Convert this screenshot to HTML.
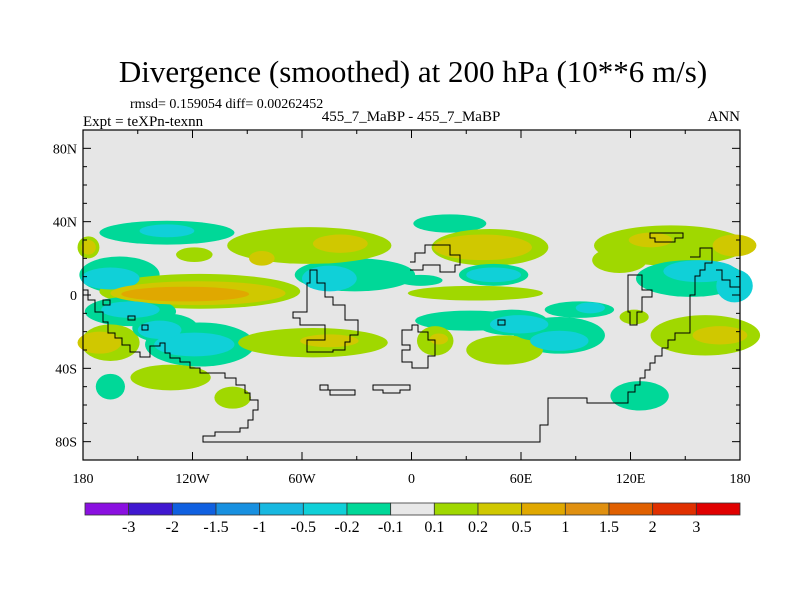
<!DOCTYPE html>
<html><head><meta charset="utf-8"><style>
body{margin:0;background:#fff;}
svg text{font-family:"Liberation Serif",serif;fill:#000;}
</style></head><body>
<svg id="chart" width="800" height="600" viewBox="0 0 800 600" xmlns="http://www.w3.org/2000/svg">
<text x="413" y="82" font-size="31" text-anchor="middle">Divergence (smoothed) at 200 hPa (10**6 m/s)</text>
<text x="130" y="108" font-size="14">rmsd= 0.159054 diff= 0.00262452</text>
<text x="83" y="126" font-size="15">Expt = teXPn-texnn</text>
<text x="411" y="121" font-size="15" text-anchor="middle">455_7_MaBP - 455_7_MaBP</text>
<text x="740" y="121" font-size="15" text-anchor="end">ANN</text>
<rect x="83" y="130" width="657" height="330" fill="#e6e6e6"/>
<g id="contours"></g>
<path fill="none" stroke="#000" stroke-width="1"
d="M83 290 L88 290 L88 300 L95 300 L95 312 L103 312 L103 322 L108 322 L108 333 L115 333 L115 338 L122 338 L122 345 L130 345 L130 352 L140 352 L140 357 L150 357 L150 346 L160 346 L160 343 L165 343 L165 353 L170 353 L170 358 L180 358 L180 362 L190 362 L190 368 L200 368 L200 373 L225 373 L225 378 L236 378 L236 385 L245 385 L245 393 L250 393 L250 400 L258 400 L258 410 L253 410 L253 420 L248 420 L248 428 L240 428 L240 432 L215 432 L215 436 L203 436 L203 442 L540 442 L540 425 L548 425 L548 398 L587 398 L587 403 L628 403 L628 392 L635 392 L635 385 L640 385 L640 378 L645 378 L645 370 L650 370 L650 363 L655 363 L655 356 L662 356 L662 348 L668 348 L668 340 L675 340 L675 333 L690 333 L690 295 L695 295 L695 276 L700 276 L700 270 L705 270 L705 263 L712 263 L712 248 L700 248 L700 257 L690 257
M310 270 L317 270 L317 283 L325 283 L325 297 L333 297 L333 305 L345 305 L345 320 L358 320 L358 335 L350 335 L350 342 L345 342 L345 350 L333 350 L333 352 L307 352 L307 340 L325 340 L325 325 L300 325 L300 318 L293 318 L293 312 L307 312 L307 283 L310 283 Z
M410 262 L415 262 L415 253 L425 253 L425 245 L450 245 L450 255 L460 255 L460 265 L455 265 L455 272 L440 272 L440 265 L423 265 L423 270 L410 270
M402 330 L412 330 L412 325 L418 325 L418 332 L428 332 L428 340 L435 340 L435 356 L428 356 L428 368 L412 368 L412 362 L402 362 L402 350 L410 350 L410 345 L402 345 Z
M320 385 L328 385 L328 390 L355 390 L355 395 L330 395 L330 390 L320 390 Z
M373 385 L410 385 L410 390 L400 390 L400 393 L383 393 L383 390 L373 390 Z
M628 275 L642 275 L642 290 L652 290 L652 297 L642 297 L642 312 L637 312 L637 325 L630 325 L630 312 L628 312 Z
M650 233 L683 233 L683 238 L675 238 L675 242 L655 242 L655 238 L650 238 Z
M103 300 L110 300 L110 305 L103 305 Z M128 316 L135 316 L135 320 L128 320 Z M142 325 L148 325 L148 330 L142 330 Z M498 320 L505 320 L505 325 L498 325 Z
M716 270 L722 270 L722 280 L730 280 L730 287 L740 287"/>
<rect x="83" y="130" width="657" height="330" fill="none" stroke="#000" stroke-width="1.2"/>
<g id="axes"></g>
<g id="colorbar"></g>
</svg>
<script>
const NS="http://www.w3.org/2000/svg";
// contour blobs: lon, lat centres, half-widths (deg), value
const blobLon=[-134,-134,-177,-177,-119,-160,-165,-116,-117,-124,-154,-116,-154,-119,-165,-171,-132,-165,-98,-31,-45,-56,-39,-82,21,43,39,45,45,5,35,32,81,92,59,81,98,51,122,142,114,177,131,153,158,177,161,169,125,-135,-138,55,70,-54,-45,13,15];
const blobLat=[34,35,26,26,22,11,9,2,1,0.5,-9,-27,-8,-27,-26,-26,-45,-50,-56,11,9,27,28,20,39,26,26,11,11,8,1,-14,-22,-8,-16,-25,-7,-30,-12,27,19,27,30,9,13,5,-22,-22,-55,-18,-19,-15,-20,-26,-25,-25,-24];
const blobRx=[37,15,6,4,10,22,16,55,48,35,25,30,16,22,16,12,22,8,10,33,15,45,15,7,20,32,27,19,15,12,37,30,25,19,16,16,8,21,8,42,15,12,12,30,20,10,30,15,16,18,12,20,14,41,16,10,5];
const blobRy=[6.5,3.5,6,4,4,10,6,9.5,6.5,4,8,12,4.5,6.5,10,6,7,7,6,9,7,10,5,4,5,10,7,6,4,3,4,5.5,10,4.5,5,5.5,3,8,4,11,7,6,4,10,6,9,11,5,8,8,5,7,5,8,3.5,8,3];
const blobVal=[-0.15,-0.3,0.15,0.3,0.15,-0.15,-0.3,0.15,0.3,0.7,-0.15,-0.15,-0.3,-0.3,0.15,0.3,0.15,-0.15,0.15,-0.15,-0.3,0.15,0.3,0.3,-0.15,0.15,0.3,-0.15,-0.3,-0.15,0.15,-0.15,-0.15,-0.15,-0.3,-0.3,-0.3,0.15,0.15,0.15,0.15,0.3,0.3,-0.15,-0.3,-0.3,0.15,0.3,-0.15,-0.15,-0.3,-0.15,-0.15,0.15,0.3,0.15,0.3];
const levels=[-3,-2,-1.5,-1,-0.5,-0.2,-0.1,0.1,0.2,0.5,1,1.5,2,3];
const levelLabels=["-3","-2","-1.5","-1","-0.5","-0.2","-0.1","0.1","0.2","0.5","1","1.5","2","3"];
const colors=["#8a10e0","#4018d0","#1060e0","#1890e0","#18b8e0","#10d0d8","#00d898","#e8e8e8","#a0d800","#d0c800","#e0a800","#e09010","#e06000","#e03000","#e00000"];
const latTicks=[80,40,0,-40,-80];
const latLabels=["80N","40N","0","40S","80S"];
const lonTicks=[-180,-120,-60,0,60,120,180];
const lonLabels=["180","120W","60W","0","60E","120E","180"];
const X0=83,X1=740,Y0=130,Y1=460;
const xs=lon=>X0+(lon+180)/360*(X1-X0);
const ys=lat=>Y0+(90-lat)/180*(Y1-Y0);
const kx=(X1-X0)/360,ky=(Y1-Y0)/180;
function colorOf(v){let i=0;while(i<levels.length&&v>levels[i])i++;return colors[i];}
const cg=document.getElementById('contours');
const order=blobLon.map((_,i)=>i).sort((a,b)=>Math.abs(blobVal[a])-Math.abs(blobVal[b])||a-b);
order.forEach(i=>{
  const e=document.createElementNS(NS,'ellipse');
  
  
  e.setAttribute('cx',xs(blobLon[i]));e.setAttribute('cy',ys(blobLat[i]));
  e.setAttribute('rx',blobRx[i]*kx);e.setAttribute('ry',blobRy[i]*ky);
  e.setAttribute('fill',colorOf(blobVal[i]));
  cg.appendChild(e);
});
const ag=document.getElementById('axes');
function line(x1,y1,x2,y2){const l=document.createElementNS(NS,'line');


l.setAttribute('x1',x1);l.setAttribute('y1',y1);l.setAttribute('x2',x2);l.setAttribute('y2',y2);l.setAttribute('stroke','#000');ag.appendChild(l);}
function text(x,y,s,anchor,name,size){const t=document.createElementNS(NS,'text');


t.setAttribute('x',x);t.setAttribute('y',y);t.setAttribute('text-anchor',anchor);t.setAttribute('font-size',size);t.textContent=s;ag.appendChild(t);}
for(let lat=-80;lat<=80;lat+=10){const y=ys(lat);const major=lat%40===0;const L=major?8:4;line(X0,y,X0+L,y);line(X1,y,X1-L,y);}
for(let lon=-180;lon<=180;lon+=30){const x=xs(lon);const major=lon%60===0;const L=major?8:4;line(x,Y1,x,Y1-L);line(x,Y0,x,Y0+L);}
latTicks.forEach((v,i)=>text(X0-6,ys(v)+5,latLabels[i],'end','lat-tick-label',14));
lonTicks.forEach((v,i)=>text(xs(v),ys(-90)+23,lonLabels[i],'middle','lon-tick-label',14));
const cb=document.getElementById('colorbar');
const cbX=85,cbW=655,cbY=503,cbH=12,bw=cbW/colors.length;
colors.forEach((c,i)=>{const r=document.createElementNS(NS,'rect');


r.setAttribute('x',cbX+i*bw);r.setAttribute('y',cbY);r.setAttribute('width',bw);r.setAttribute('height',cbH);r.setAttribute('fill',c);r.setAttribute('stroke','#333');r.setAttribute('stroke-width','0.8');cb.appendChild(r);});
levelLabels.forEach((s,i)=>{const t=document.createElementNS(NS,'text');


t.setAttribute('x',cbX+(i+1)*bw);t.setAttribute('y',532);t.setAttribute('text-anchor','middle');t.setAttribute('font-size',16);t.textContent=s;cb.appendChild(t);});
</script>
</body></html>
